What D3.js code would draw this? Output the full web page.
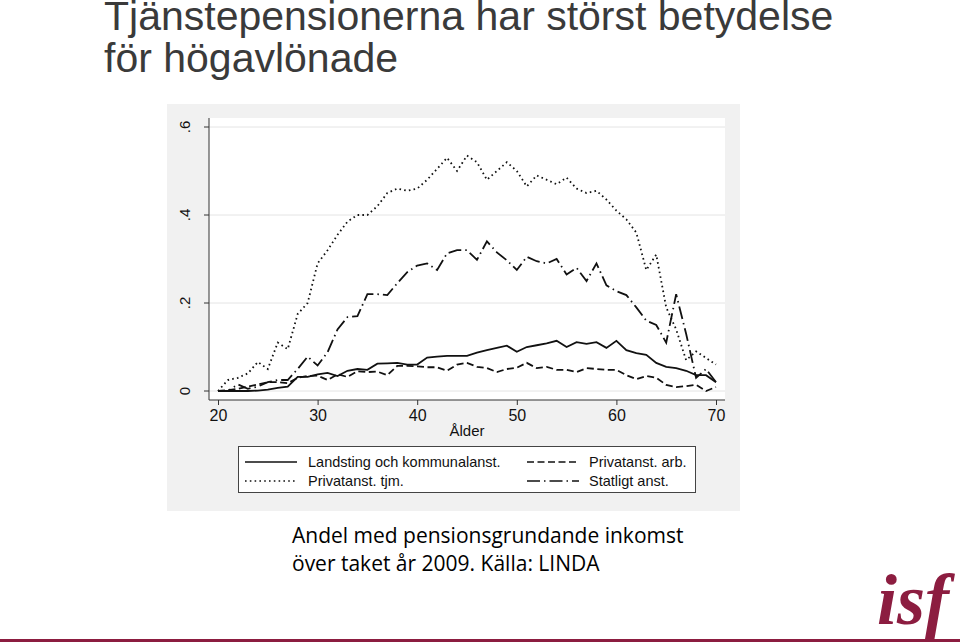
<!DOCTYPE html>
<html>
<head>
<meta charset="utf-8">
<script src="https://cdn.jsdelivr.net/npm/d3@7"></script>
<style>
  body { margin: 0; background: #fff; }
  svg { display: block; }
</style>
</head>
<body>
<svg id="chart" width="960" height="643"></svg>
<script>
const ages = d3.range(20, 71);

// Landsting och kommunalanst.
const landsting = [0, 0, 0, 0, 0.001, 0.003, 0.007, 0.01, 0.032, 0.032, 0.038, 0.041, 0.034, 0.046, 0.05, 0.048,
  0.062, 0.063, 0.064, 0.06, 0.06, 0.076, 0.078, 0.08, 0.08, 0.08, 0.087, 0.093, 0.098, 0.103, 0.089,
  0.1, 0.104, 0.108, 0.114, 0.1, 0.111, 0.107, 0.111, 0.098, 0.114, 0.093, 0.086, 0.082, 0.064, 0.055,
  0.052, 0.046, 0.036, 0.036, 0.02];
// Privatanst. arb.
const privArb = [0, 0.002, 0.005, 0.01, 0.015, 0.02, 0.02, 0.018, 0.03, 0.034, 0.035, 0.025, 0.038, 0.032, 0.045, 0.043,
  0.044, 0.036, 0.057, 0.057, 0.056, 0.054, 0.054, 0.046, 0.06, 0.064, 0.055, 0.052, 0.043, 0.05, 0.053,
  0.064, 0.052, 0.055, 0.048, 0.048, 0.043, 0.052, 0.05, 0.048, 0.048, 0.036, 0.027, 0.034, 0.03, 0.014,
  0.009, 0.011, 0.014, 0.0, 0.009];
// Privatanst. tjm.
const privTjm = [0, 0.025, 0.03, 0.04, 0.066, 0.05, 0.11, 0.095, 0.175, 0.2, 0.29, 0.32, 0.355, 0.385, 0.4, 0.4,
  0.42, 0.45, 0.46, 0.455, 0.46, 0.48, 0.505, 0.53, 0.5, 0.535, 0.52, 0.48, 0.5, 0.52, 0.5,
  0.465, 0.49, 0.48, 0.47, 0.485, 0.46, 0.45, 0.455, 0.435, 0.41, 0.39, 0.36, 0.275, 0.31, 0.19,
  0.14, 0.07, 0.09, 0.075, 0.06];
// Statligt anst.
const statligt = [0, 0, 0.015, 0.005, 0.01, 0.02, 0.025, 0.025, 0.05, 0.078, 0.058, 0.088, 0.14, 0.168, 0.17, 0.22,
  0.22, 0.218, 0.245, 0.27, 0.285, 0.29, 0.275, 0.313, 0.32, 0.32, 0.298, 0.34, 0.315, 0.297, 0.275,
  0.305, 0.295, 0.29, 0.3, 0.265, 0.28, 0.25, 0.29, 0.24, 0.227, 0.218, 0.19, 0.16, 0.15, 0.11,
  0.22, 0.13, 0.03, 0.05, 0.02];

const xTicks = [20, 30, 40, 50, 60, 70];
const yTicks = [0, 0.2, 0.4, 0.6];
const yTickLabels = ["0", ".2", ".4", ".6"];

const series = [
  { name: "Landsting och kommunalanst.", values: landsting, dash: null },
  { name: "Privatanst. arb.", values: privArb, dash: "7,3.5" },
  { name: "Privatanst. tjm.", values: privTjm, dash: "1.6,3.2" },
  { name: "Statligt anst.", values: statligt, dash: "13,4,1.5,4" }
];

const svg = d3.select("#chart");
const font = "'Liberation Sans', Arial, sans-serif";

// title
svg.append("text").attr("x", 104).attr("y", 30)
  .attr("font-family", font).attr("font-size", 41).attr("fill", "#3a3a3a")
  .text("Tjänstepensionerna har störst betydelse");
svg.append("text").attr("x", 104).attr("y", 72)
  .attr("font-family", font).attr("font-size", 41).attr("fill", "#3a3a3a")
  .text("för högavlönade");

// graph panel
svg.append("rect").attr("x", 167).attr("y", 104).attr("width", 573).attr("height", 407)
  .attr("fill", "#f1f1f1");
svg.append("rect").attr("x", 209).attr("y", 118).attr("width", 516).attr("height", 282)
  .attr("fill", "#fff");

const x = d3.scaleLinear().domain([20, 70]).range([218, 716]);
const y = d3.scaleLinear().domain([0, 0.6]).range([391, 127]);

// grid
svg.append("g").selectAll("line").data(yTicks).join("line")
  .attr("x1", 209).attr("x2", 725)
  .attr("y1", d => y(d)).attr("y2", d => y(d))
  .attr("stroke", "#e4e4e4").attr("stroke-width", 1);

// axes
const yAxis = svg.append("g").attr("transform", "translate(209,0)")
  .call(d3.axisLeft(y).tickValues(yTicks).tickSize(5).tickPadding(0).tickFormat((d, i) => yTickLabels[i]));
yAxis.select(".domain").attr("d", "M0,118V400");
yAxis.selectAll("text")
  .attr("font-family", font).attr("font-size", 15).attr("fill", "#111")
  .attr("text-anchor", "middle")
  .attr("transform", d => `translate(-24,${y(d)}) rotate(-90)`)
  .attr("x", 0).attr("y", 0).attr("dy", "0.35em");
yAxis.selectAll(".tick").attr("transform", null);
yAxis.selectAll(".tick line").attr("y1", d => y(d)).attr("y2", d => y(d));

const xAxis = svg.append("g").attr("transform", "translate(0,400)")
  .call(d3.axisBottom(x).tickValues(xTicks).tickSize(5).tickPadding(5));
xAxis.select(".domain").attr("d", "M209,0H725");
xAxis.selectAll("text").attr("font-family", font).attr("font-size", 16).attr("fill", "#111");
svg.selectAll(".domain, .tick line").attr("stroke", "#333");

svg.append("text").attr("x", 467).attr("y", 436).attr("text-anchor", "middle")
  .attr("font-family", font).attr("font-size", 15).attr("fill", "#111").text("Ålder");

// lines
const line = d3.line().x((d, i) => x(ages[i])).y(d => y(d));
svg.append("g").selectAll("path").data(series).join("path")
  .attr("d", d => line(d.values))
  .attr("fill", "none").attr("stroke", "#111").attr("stroke-width", 1.8)
  .attr("stroke-dasharray", d => d.dash);

// legend
const lg = svg.append("g");
lg.append("rect").attr("x", 238.5).attr("y", 446.5).attr("width", 457).attr("height", 46)
  .attr("fill", "#fff").attr("stroke", "#444").attr("stroke-width", 1);
const legendPos = [
  { lx: 245, ty: 467 }, { lx: 527, ty: 467 }, { lx: 245, ty: 486 }, { lx: 527, ty: 486 }
];
const li = lg.selectAll("g.item").data(series).join("g").attr("class", "item");
li.append("line")
  .attr("x1", (d, i) => legendPos[i].lx).attr("x2", (d, i) => legendPos[i].lx + 52)
  .attr("y1", (d, i) => legendPos[i].ty - 5).attr("y2", (d, i) => legendPos[i].ty - 5)
  .attr("stroke", "#111").attr("stroke-width", 1.4)
  .attr("stroke-dasharray", d => d.dash);
li.append("text")
  .attr("x", (d, i) => legendPos[i].lx + (i % 2 ? 62 : 63)).attr("y", (d, i) => legendPos[i].ty)
  .attr("font-family", font).attr("font-size", 14.5).attr("fill", "#111")
  .text(d => d.name);

// caption
const capFont = "'Open Sans', 'Noto Sans', sans-serif";
svg.append("text").attr("x", 292).attr("y", 543)
  .attr("font-family", capFont).attr("font-size", 21).attr("fill", "#000")
  .text("Andel med pensionsgrundande inkomst");
svg.append("text").attr("x", 292).attr("y", 571)
  .attr("font-family", capFont).attr("font-size", 21).attr("fill", "#000")
  .text("över taket år 2009. Källa: LINDA");

// logo
svg.append("text").attr("x", 877).attr("y", 624)
  .attr("font-family", "'Liberation Serif', 'DejaVu Serif', serif")
  .attr("font-style", "italic").attr("font-weight", "bold")
  .attr("font-size", 72).attr("fill", "#8c1d40").text("isf");
svg.append("rect").attr("x", 0).attr("y", 639).attr("width", 960).attr("height", 3)
  .attr("fill", "#8c1d40");
</script>
</body>
</html>
